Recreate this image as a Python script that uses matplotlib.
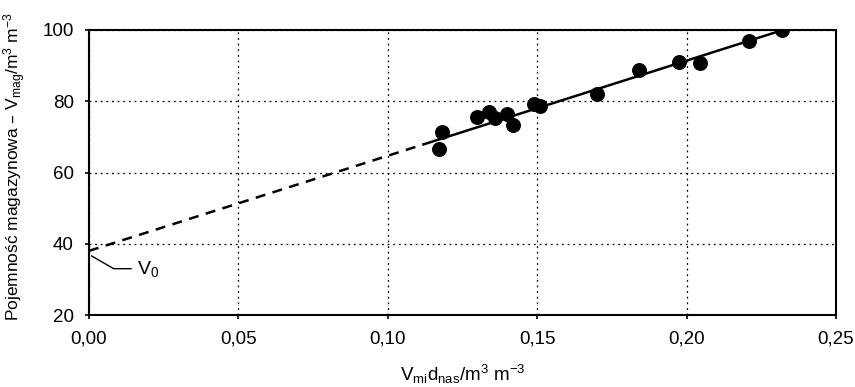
import matplotlib
matplotlib.use('Agg')
import matplotlib.pyplot as plt
import numpy as np

plt.rcParams['font.family'] = ['Liberation Sans', 'DejaVu Sans']
plt.rcParams['mathtext.default'] = 'regular'

# measured points
x_pts = [0.117, 0.118, 0.130, 0.134, 0.136, 0.140, 0.142, 0.149, 0.151,
         0.170, 0.184, 0.1975, 0.2045, 0.221, 0.232]
y_pts = [66.5, 71.3, 75.5, 77.0, 75.3, 76.5, 73.2, 79.2, 78.6,
         82.0, 88.8, 91.0, 90.7, 97.0, 100.0]

# regression line
v0 = 38.0
slope = 267.0
x_dash = [0.0, 0.112]
x_solid = [0.112, 0.232]

xticks = [0.0, 0.05, 0.10, 0.15, 0.20, 0.25]
yticks = [20, 40, 60, 80, 100]

fig = plt.figure(figsize=(8.55, 3.87), dpi=100)
ax = fig.add_axes([89/855, 72/387, 747/855, 285/387])

ax.plot(x_dash, [v0 + slope*v for v in x_dash], color='k', lw=1.8, ls=(0, (4, 3)))
ax.plot(x_solid, [v0 + slope*v for v in x_solid], color='k', lw=1.8)
ax.scatter(x_pts, y_pts, s=95, color='k', zorder=3)

ax.set_xlim(0, 0.25)
ax.set_ylim(20, 100)
ax.set_xticks(xticks)
ax.set_yticks(yticks)
ax.set_xticklabels([f'{t:.2f}'.replace('.', ',') for t in xticks], fontsize=13.5)
ax.set_yticklabels([str(t) for t in yticks], fontsize=13.5)
ax.tick_params(direction='out', length=3, width=1.2, pad=8)
ax.grid(True, color='k', ls=(0, (1.5, 3)), lw=0.9)
for s in ax.spines.values():
    s.set_linewidth(1.5)

ax.annotate('V$_0$', xy=(0, 37), xytext=(0.016, 33), fontsize=14,
            va='center', ha='left',
            arrowprops=dict(arrowstyle='-', color='k', lw=1,
                            connectionstyle='angle,angleA=0,angleB=-30,rad=0'))

ax.set_xlabel('V$_{mi}$d$_{nas}$/m$^3$ m$^{-3}$', fontsize=13.5, labelpad=11)
ax.set_ylabel('Pojemność magazynowa – V$_{mag}$/m$^3$ m$^{-3}$', fontsize=12.5)
ax.yaxis.set_label_coords(-0.081, 0.52)

fig.savefig('out.png', dpi=100)
